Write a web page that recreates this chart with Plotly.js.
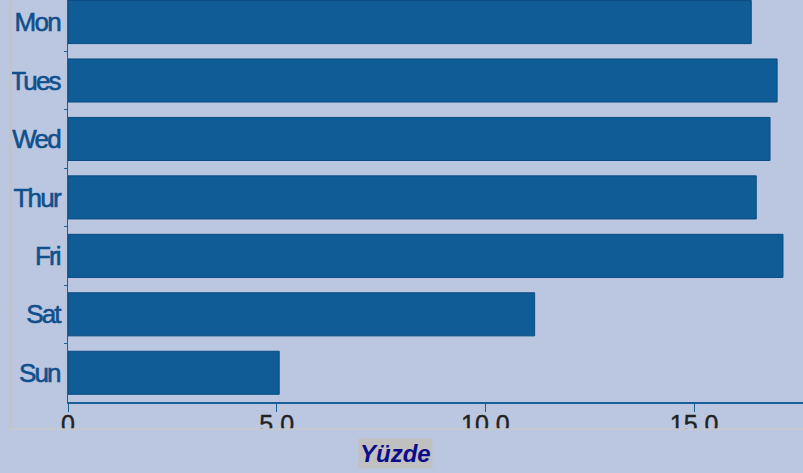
<!DOCTYPE html>
<html>
<head>
<meta charset="utf-8">
<script src="https://cdn.plot.ly/plotly-3.0.1.min.js"></script>
<style>
  html, body { margin: 0; padding: 0; background: #bbc7e0; }
  #chart { width: 803px; height: 473px; }
  #chart .ytick text { letter-spacing: -1.8px; stroke: #10508c; stroke-width: 0.6px; }
  #chart .xtick text { stroke: #222222; stroke-width: 0.4px; }
</style>
</head>
<body>
<div id="chart"></div>
<script>
// Data
const days = ["Mon", "Tues", "Wed", "Thur", "Fri", "Sat", "Sun"];
const percent = [16.37, 16.99, 16.82, 16.49, 17.13, 11.18, 5.06];
const xTickValues = [0, 5, 10, 15];
const xTickLabels = ["0", "5.0", "10.0", "15.0"];
const axisTitle = "Yüzde";

const W = 803, H = 473;
const M = { l: 68, r: 0, t: 0, b: 71 };
const pw = W - M.l - M.r, ph = H - M.t - M.b;
const px2x = p => (p - M.l) / pw;
const py2y = p => (H - M.b - p) / ph;

const bg = "#bbc7e0";

const trace = {
  type: "bar",
  orientation: "h",
  y: days,
  x: percent,
  marker: { color: "#0f5c96", line: { color: "#0b4c82", width: 1 } },
  hoverinfo: "x+y"
};

const layout = {
  width: W, height: H,
  margin: M,
  paper_bgcolor: bg,
  plot_bgcolor: bg,
  showlegend: false,
  bargap: 0.263,
  xaxis: {
    range: [0, 17.61],
    tickmode: "array",
    tickvals: xTickValues,
    ticktext: xTickLabels,
    showgrid: false,
    zeroline: false,
    showline: true,
    linecolor: "#1c5e96",
    linewidth: 2,
    ticks: "outside",
    ticklen: 8,
    tickwidth: 1,
    tickcolor: "#1c5e96",
    ticklabelstandoff: -9,
    tickfont: { family: "Liberation Sans, Arial, sans-serif", size: 25, color: "#222222" }
  },
  yaxis: {
    type: "category",
    categoryorder: "array",
    categoryarray: days,
    range: [6.5, -0.377],
    showgrid: false,
    zeroline: false,
    showline: true,
    linecolor: "#1c5e96",
    linewidth: 1,
    ticks: "outside",
    tickson: "boundaries",
    ticklen: 3,
    tickwidth: 1,
    tickcolor: "#1c5e96",
    ticklabelstandoff: 2,
    tickfont: { family: "Liberation Sans, Arial, sans-serif", size: 26, color: "#10508c" }
  },
  shapes: [
    { type: "rect", xref: "paper", yref: "paper", layer: "above",
      x0: px2x(-5), x1: px2x(W + 5), y0: py2y(429), y1: py2y(H + 5),
      fillcolor: bg, line: { width: 0 } },
    { type: "line", xref: "paper", yref: "paper", layer: "above",
      x0: px2x(10.5), x1: px2x(10.5), y0: py2y(-2), y1: py2y(429),
      line: { color: "#c4c4c4", width: 3 } },
    { type: "line", xref: "paper", yref: "paper", layer: "above",
      x0: px2x(9), x1: px2x(W + 2), y0: py2y(429), y1: py2y(429),
      line: { color: "#c8c8c8", width: 1.5 } }
  ],
  annotations: [
    { text: axisTitle, xref: "paper", yref: "paper",
      x: px2x(395), y: py2y(453.5), xanchor: "center", yanchor: "middle",
      showarrow: false, bgcolor: "#c0c0c0", borderpad: 1,
      font: { family: "Liberation Sans, Arial, sans-serif", size: 24, color: "#0c0c8a", weight: "bold", style: "italic" } }
  ]
};

Plotly.newPlot("chart", [trace], layout, { displayModeBar: false, staticPlot: true });
</script>
</body>
</html>
